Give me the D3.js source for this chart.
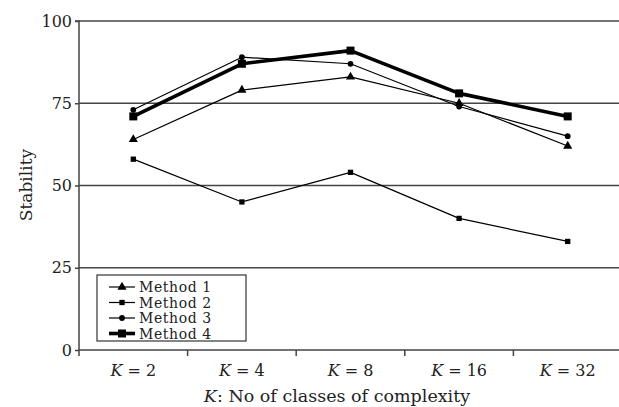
<!DOCTYPE html>
<html>
<head>
<meta charset="utf-8">
<script src="https://cdn.jsdelivr.net/npm/d3@7"></script>
<style>
  body { margin: 0; background: #fff; }
  svg { display: block; font-family: "DejaVu Serif", "Liberation Serif", serif; }
</style>
</head>
<body>
<svg id="chart" width="619" height="407"></svg>
<script>
const categories = ["2", "4", "8", "16", "32"];
const yTicks = [0, 25, 50, 75, 100];
const method1 = [64, 79, 83, 75, 62];
const method2 = [58, 45, 54, 40, 33];
const method3 = [73, 89, 87, 74, 65];
const method4 = [71, 87, 91, 78, 71];
const seriesNames = ["Method 1", "Method 2", "Method 3", "Method 4"];

const series = [
  { name: seriesNames[0], values: method1, symbol: d3.symbolTriangle, size: 36, width: 1.2 },
  { name: seriesNames[1], values: method2, symbol: d3.symbolSquare, size: 28, width: 1.2 },
  { name: seriesNames[2], values: method3, symbol: d3.symbolCircle, size: 26, width: 1.2 },
  { name: seriesNames[3], values: method4, symbol: d3.symbolSquare, size: 64, width: 3.6 }
];

const svg = d3.select("#chart");
const plotLeft = 79, plotRight = 622, plotTop = 21, plotBottom = 350;
const serif = "DejaVu Serif";

const x = d3.scaleBand().domain(categories).range([plotLeft, plotRight]);
const y = d3.scaleLinear().domain([0, 100]).range([plotBottom, plotTop]);

// gridlines
svg.append("g").selectAll("line")
  .data(yTicks)
  .enter().append("line")
  .attr("x1", plotLeft).attr("x2", 619)
  .attr("y1", d => y(d)).attr("y2", d => y(d))
  .attr("stroke", "#444").attr("stroke-width", 1.5);

// y axis
const yAxis = svg.append("g")
  .attr("transform", `translate(${plotLeft},0)`)
  .call(d3.axisLeft(y).tickValues(yTicks).tickSize(4).tickPadding(3))
  .attr("font-family", serif);
yAxis.select(".domain").attr("stroke", "#444").attr("stroke-width", 1.5)
  .attr("d", `M-4,${plotTop}H0V${plotBottom + 6}`);
yAxis.selectAll(".tick line").attr("stroke", "#444").attr("stroke-width", 1.5);
yAxis.selectAll("text").attr("font-size", 16).attr("fill", "#222");

// x axis: labels centred in bands, ticks between categories
const xAxis = svg.append("g")
  .attr("transform", `translate(0,${plotBottom})`)
  .call(d3.axisBottom(x).tickSize(0))
  .attr("font-family", serif);
xAxis.select(".domain").remove();
xAxis.selectAll("text").remove();
xAxis.selectAll(".tick").append("text")
  .attr("y", 26)
  .attr("text-anchor", "middle")
  .attr("font-size", 16)
  .attr("fill", "#222")
  .html(d => `<tspan font-style="italic">K</tspan> = ${d}`);

svg.append("g").selectAll("line")
  .data(categories.slice(1))
  .enter().append("line")
  .attr("x1", d => x(d)).attr("x2", d => x(d))
  .attr("y1", plotBottom).attr("y2", plotBottom + 6)
  .attr("stroke", "#444").attr("stroke-width", 1.5);

// axis titles
svg.append("text")
  .attr("transform", `translate(32,185) rotate(-90)`)
  .attr("text-anchor", "middle")
  .attr("font-size", 17)
  .attr("fill", "#222")
  .text("Stability");

svg.append("text")
  .attr("x", 337).attr("y", 402)
  .attr("text-anchor", "middle")
  .attr("font-size", 17.5)
  .attr("fill", "#222")
  .html(`<tspan font-style="italic">K</tspan>: No of classes of complexity`);

// lines
const line = d3.line()
  .x((d, i) => x(categories[i]) + x.bandwidth() / 2)
  .y(d => y(d));

const groups = svg.append("g").selectAll("g")
  .data(series)
  .enter().append("g");

groups.append("path")
  .attr("d", d => line(d.values))
  .attr("fill", "none")
  .attr("stroke", "#000")
  .attr("stroke-width", d => d.width)
  .attr("stroke-linejoin", "round");

groups.each(function(s) {
  d3.select(this).selectAll("path.pt")
    .data(s.values)
    .enter().append("path")
    .attr("class", "pt")
    .attr("transform", (d, i) => `translate(${x(categories[i]) + x.bandwidth() / 2},${y(d)})`)
    .attr("d", d3.symbol().type(s.symbol).size(s.size))
    .attr("fill", "#000");
});

// legend
const legend = svg.append("g").attr("transform", "translate(97,275)");
legend.append("rect")
  .attr("width", 149).attr("height", 66)
  .attr("fill", "#fff").attr("stroke", "#333").attr("stroke-width", 1.2);

const items = legend.selectAll("g.item")
  .data(series)
  .enter().append("g")
  .attr("class", "item")
  .attr("transform", (d, i) => `translate(0,${12 + i * 15.5})`);

items.append("line")
  .attr("x1", 12).attr("x2", 38)
  .attr("stroke", "#000")
  .attr("stroke-width", d => d.width);
items.append("path")
  .attr("transform", "translate(25,0)")
  .attr("d", d => d3.symbol().type(d.symbol).size(d.size)())
  .attr("fill", "#000");
items.append("text")
  .attr("x", 42).attr("y", 5)
  .attr("font-size", 14)
  .attr("letter-spacing", 0.6)
  .attr("fill", "#222")
  .text(d => d.name);
</script>
</body>
</html>
